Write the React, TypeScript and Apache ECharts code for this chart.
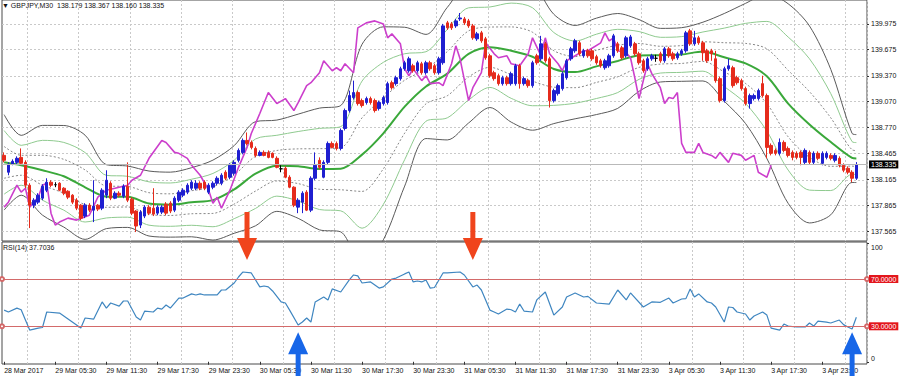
import React, { useEffect, useRef } from 'react';
import * as echarts from 'echarts';

const tickLabels = ['28 Mar 2017', '29 Mar 05:30', '29 Mar 11:30', '29 Mar 17:30', '29 Mar 23:30', '30 Mar 05:30', '30 Mar 11:30', '30 Mar 17:30', '30 Mar 23:30', '31 Mar 05:30', '31 Mar 11:30', '31 Mar 17:30', '31 Mar 23:30', '3 Apr 05:30', '3 Apr 11:30', '3 Apr 17:30', '3 Apr 23:30'];
const priceTicks = [137.565, 137.865, 138.165, 138.465, 138.77, 139.07, 139.37, 139.675, 139.975];
const rsiTicks = [0, 100];
const rsiLevels = [70, 30];
const rsiLast = 37.7036;
const symbolName = 'GBPJPY,M30';

// [open, close, low, high]
const candles = [
[138.445,138.388,138.364,138.480],[138.249,138.341,138.214,138.364],[138.341,138.376,138.330,138.399],[138.364,138.411,138.341,138.434],[138.422,138.353,138.330,138.526],
[138.364,138.098,138.063,138.388],[138.098,137.866,137.599,138.121],[137.866,137.924,137.831,137.947],[137.901,137.982,137.878,138.005],[137.947,138.086,137.924,138.109],
[138.040,138.133,138.017,138.179],[138.133,138.098,138.075,138.156],[138.104,138.104,138.075,138.133],[138.121,138.040,138.028,138.133],[138.063,138.005,137.982,138.075],
[138.028,137.959,137.936,138.040],[137.982,137.901,137.878,137.994],[137.924,137.831,137.808,137.947],[137.866,137.715,137.692,137.878],[137.739,137.866,137.715,137.889],
[137.866,137.808,137.785,137.889],[137.808,137.854,137.669,138.156],[137.866,137.820,137.797,137.878],[137.831,138.040,137.808,138.063],[137.982,138.156,137.947,138.272],
[138.121,137.947,137.924,138.144],[137.947,138.005,137.936,138.028],[138.005,137.982,137.959,138.028],[137.970,138.086,137.947,138.109],[138.086,137.924,137.901,138.364],
[137.936,137.773,137.750,137.959],[137.797,137.623,137.553,137.808],[137.634,137.785,137.599,137.808],[137.739,137.843,137.715,137.866],[137.843,137.773,137.750,137.866],
[137.831,137.762,137.739,138.063],[137.773,137.843,137.750,137.866],[137.785,137.843,137.762,137.866],[137.878,137.773,137.750,137.901],[137.889,137.797,137.773,137.912],
[137.808,137.947,137.785,137.970],[137.924,138.017,137.901,138.040],[137.982,138.040,137.959,138.063],[138.017,138.098,137.994,138.121],[138.063,138.133,138.040,138.156],
[138.063,138.121,138.040,138.156],[138.121,138.063,138.040,138.144],[138.133,138.063,138.040,138.156],[138.017,138.098,137.994,138.121],[138.075,138.121,138.051,138.144],
[138.121,138.179,138.098,138.202],[138.121,138.214,138.098,138.237],[138.249,138.179,138.156,138.272],[138.191,138.330,138.167,138.353],[138.237,138.364,138.214,138.388],
[138.388,138.503,138.364,138.526],[138.480,138.619,138.457,138.642],[138.619,138.584,138.561,138.712],[138.596,138.538,138.515,138.619],[138.526,138.445,138.422,138.549],
[138.445,138.480,138.434,138.503],[138.480,138.445,138.434,138.503],[138.480,138.422,138.411,138.503],[138.469,138.422,138.411,138.480],[138.411,138.306,138.295,138.434],
[138.289,138.289,138.249,138.330],[138.295,138.191,138.179,138.318],[138.191,138.075,138.063,138.214],[138.075,137.866,137.843,138.086],[137.843,137.924,137.773,137.947],
[137.901,138.005,137.773,138.028],[138.017,137.808,137.797,138.040],[137.808,138.179,137.785,138.202],[138.179,138.330,138.156,138.480],[138.388,138.306,138.283,138.422],
[138.191,138.364,138.179,138.388],[138.364,138.584,138.341,138.607],[138.584,138.538,138.526,138.607],[138.584,138.526,138.503,138.607],[138.526,138.735,138.503,138.758],
[138.758,138.967,138.735,138.990],[138.967,139.141,138.944,139.199],[139.118,139.176,139.094,139.315],[139.176,139.048,139.025,139.199],[139.083,139.025,139.002,139.106],
[139.060,139.106,139.036,139.129],[139.106,139.060,139.036,139.129],[139.083,138.967,138.944,139.106],[138.990,139.060,138.967,139.083],[139.048,139.118,139.025,139.141],
[139.060,139.280,139.036,139.303],[139.291,139.233,139.210,139.315],[139.280,139.349,139.257,139.372],[139.338,139.453,139.315,139.477],[139.453,139.523,139.430,139.546],
[139.430,139.569,139.407,139.593],[139.488,139.430,139.407,139.511],[139.430,139.523,139.407,139.546],[139.511,139.407,139.384,139.534],[139.407,139.523,139.384,139.546],
[139.523,139.453,139.430,139.546],[139.488,139.407,139.384,139.511],[139.407,139.569,139.384,139.593],[139.523,139.952,139.500,139.975],[139.987,139.929,139.905,140.010],
[139.975,139.929,139.905,139.998],[139.952,140.010,139.929,140.033],[140.033,140.044,140.010,140.102],[140.033,139.987,139.963,140.056],[140.010,139.952,139.929,140.033],
[139.952,139.813,139.790,139.975],[139.801,139.859,139.778,139.882],[139.871,139.778,139.755,139.894],[139.801,139.581,139.558,139.824],[139.604,139.372,139.349,139.627],
[139.407,139.338,139.315,139.430],[139.372,139.280,139.257,139.396],[139.280,139.349,139.257,139.372],[139.349,139.280,139.257,139.372],[139.280,139.396,139.257,139.419],
[139.280,139.488,139.257,139.511],[139.488,139.280,139.222,139.511],[139.280,139.338,139.257,139.361],[139.315,139.257,139.233,139.338],[139.257,139.523,139.233,139.546],
[139.604,139.523,139.500,139.627],[139.569,139.743,139.546,139.836],[139.743,139.546,139.523,139.766],[139.569,139.083,139.002,139.593],[139.083,139.199,139.060,139.222],
[139.164,139.257,139.141,139.280],[139.222,139.396,139.199,139.419],[139.349,139.546,139.326,139.569],[139.569,139.685,139.546,139.708],[139.662,139.778,139.639,139.801],
[139.755,139.627,139.604,139.778],[139.604,139.662,139.581,139.685],[139.662,139.604,139.581,139.685],[139.662,139.569,139.546,139.685],[139.593,139.523,139.500,139.616],
[139.546,139.488,139.465,139.569],[139.465,139.546,139.442,139.569],[139.488,139.604,139.465,139.627],[139.604,139.836,139.581,139.859],[139.743,139.662,139.639,139.766],
[139.697,139.581,139.558,139.720],[139.604,139.813,139.581,139.836],[139.720,139.824,139.697,139.847],[139.743,139.627,139.604,139.766],[139.627,139.523,139.500,139.651],
[139.546,139.430,139.407,139.569],[139.453,139.569,139.430,139.593],[139.569,139.604,139.546,139.627],[139.575,139.575,139.534,139.616],[139.627,139.546,139.523,139.651],
[139.546,139.685,139.523,139.708],[139.685,139.604,139.581,139.708],[139.627,139.569,139.546,139.651],[139.581,139.627,139.558,139.651],[139.627,139.662,139.604,139.685],
[139.662,139.871,139.639,139.894],[139.894,139.743,139.720,139.917],[139.743,139.813,139.720,139.894],[139.813,139.755,139.732,139.836],[139.755,139.639,139.546,139.778],
[139.662,139.546,139.523,139.685],[139.662,139.627,139.546,139.685],[139.569,139.315,139.291,139.662],[139.338,139.083,139.060,139.361],[139.083,139.453,139.060,139.477],
[139.453,139.488,139.430,139.569],[139.465,139.257,139.233,139.488],[139.349,139.291,139.268,139.372],[139.315,139.222,139.199,139.338],[139.222,139.048,139.025,139.245],
[139.048,139.141,138.990,139.164],[139.106,139.141,139.083,139.164],[139.106,139.199,139.083,139.222],[139.280,139.141,139.118,139.372],[139.141,138.538,138.411,139.164],
[138.561,138.469,138.445,138.584],[138.503,138.469,138.445,138.526],[138.469,138.596,138.445,138.642],[138.596,138.503,138.480,138.619],[138.526,138.445,138.422,138.549],
[138.480,138.422,138.388,138.503],[138.469,138.422,138.399,138.492],[138.480,138.422,138.330,138.503],[138.364,138.503,138.341,138.526],[138.480,138.364,138.341,138.503],
[138.364,138.469,138.341,138.492],[138.469,138.411,138.388,138.492],[138.353,138.469,138.330,138.492],[138.422,138.469,138.399,138.492],[138.445,138.411,138.388,138.469],
[138.388,138.445,138.364,138.469],[138.411,138.330,138.306,138.434],[138.330,138.272,138.249,138.353],[138.295,138.249,138.225,138.318],[138.249,138.179,138.133,138.272],
[138.179,138.335,138.160,138.367]
];

const bandIdx = [0,4,9,14,19,24,29,34,39,44,49,54,59,64,69,74,79,84,89,94,99,104,109,114,119,124,129,134,139,144,149,154,159,164,169,174,179,184,189,194,199,200];
const bandMid = [138.364,138.330,138.272,138.202,138.074,137.965,137.964,137.885,137.872,137.900,137.925,138.049,138.232,138.325,138.319,138.287,138.290,138.454,138.702,139.012,139.247,139.396,139.626,139.704,139.663,139.593,139.451,139.414,139.481,139.544,139.608,139.611,139.619,139.653,139.586,139.515,139.366,139.048,138.805,138.600,138.415,138.408];
const bandU1 = [138.549,138.446,138.446,138.399,138.276,138.089,138.083,138.011,137.998,138.034,138.080,138.219,138.434,138.502,138.521,138.523,138.535,138.882,139.115,139.320,139.449,139.653,139.894,139.938,139.940,139.878,139.663,139.595,139.668,139.728,139.747,139.715,139.723,139.767,139.756,139.748,139.685,139.435,139.187,138.882,138.510,138.501];
const bandU2 = [138.734,138.562,138.620,138.596,138.478,138.213,138.202,138.137,138.124,138.168,138.235,138.389,138.636,138.679,138.723,138.759,138.780,139.310,139.528,139.628,139.651,139.910,140.162,140.172,140.217,140.163,139.875,139.776,139.855,139.912,139.886,139.819,139.827,139.881,139.926,139.981,140.004,139.822,139.569,139.164,138.605,138.594];
const bandU3 = [138.919,138.678,138.794,138.793,138.680,138.337,138.321,138.263,138.250,138.302,138.390,138.559,138.838,138.856,138.925,138.995,139.025,139.738,139.941,139.936,139.853,140.167,140.430,140.406,140.494,140.448,140.087,139.957,140.042,140.096,140.025,139.923,139.931,139.995,140.096,140.214,140.323,140.209,139.951,139.446,138.700,138.687];
const bandL1 = [138.179,138.214,138.098,138.005,137.872,137.841,137.845,137.759,137.746,137.766,137.770,137.879,138.030,138.148,138.117,138.051,138.045,138.026,138.289,138.704,139.045,139.139,139.358,139.470,139.386,139.308,139.239,139.233,139.294,139.360,139.469,139.507,139.515,139.539,139.416,139.282,139.047,138.661,138.423,138.318,138.320,138.315];
const bandL2 = [137.994,138.098,137.924,137.808,137.670,137.717,137.726,137.633,137.620,137.632,137.615,137.709,137.828,137.971,137.915,137.815,137.800,137.598,137.876,138.396,138.843,138.882,139.090,139.236,139.109,139.023,139.027,139.052,139.107,139.176,139.330,139.403,139.411,139.425,139.246,139.049,138.728,138.274,138.041,138.036,138.225,138.222];
const bandL3 = [137.809,137.982,137.750,137.611,137.468,137.593,137.607,137.507,137.494,137.498,137.460,137.539,137.626,137.794,137.713,137.579,137.555,137.170,137.463,138.088,138.641,138.625,138.822,139.002,138.832,138.738,138.815,138.871,138.920,138.992,139.191,139.299,139.307,139.311,139.076,138.816,138.409,137.887,137.659,137.754,138.130,138.129];

const magenta = [[0,137.843],[1,137.901],[3,138.098],[4,138.017],[5,138.063],[6,137.843],[8,137.959],[9,138.098],[10,138.121],[11,137.773],[12,137.634],[13,137.669],[15,137.715],[17,137.692],[20,137.750],[22,137.959],[24,138.040],[26,138.063],[29,138.098],[30,138.156],[32,138.214],[34,138.411],[37,138.619],[38,138.596],[40,138.480],[41,138.469],[43,138.411],[44,138.330],[46,138.214],[48,138.040],[49,137.889],[50,137.959],[51,137.831],[53,138.040],[55,138.306],[56,138.422],[57,138.538],[58,138.700],[60,138.932],[62,139.176],[64,139.048],[66,139.106],[68,138.967],[69,139.060],[71,139.257],[72,139.291],[74,139.407],[75,139.546],[77,139.430],[78,139.465],[79,139.430],[80,139.511],[82,139.407],[83,139.929],[85,139.987],[87,140.010],[89,139.975],[90,139.813],[91,139.859],[93,139.743],[94,139.453],[95,139.372],[96,139.453],[98,139.315],[99,139.372],[100,139.280],[102,139.291],[103,139.257],[105,139.511],[106,139.720],[107,139.569],[109,139.083],[110,139.233],[112,139.407],[113,139.755],[115,139.627],[116,139.581],[118,139.604],[119,139.511],[121,139.488],[123,139.627],[124,139.813],[126,139.604],[127,139.813],[128,139.627],[130,139.511],[131,139.430],[132,139.546],[134,139.604],[136,139.662],[137,139.662],[140,139.755],[141,139.871],[142,139.778],[143,139.813],[144,139.662],[146,139.639],[147,139.581],[148,139.349],[149,139.106],[150,139.315],[151,139.511],[152,139.396],[153,139.315],[154,139.233],[155,139.048],[156,139.118],[157,139.106],[158,139.176],[159,138.584],[160,138.480],[162,138.480],[163,138.584],[164,138.480],[166,138.445],[167,138.411],[168,138.480],[170,138.364],[171,138.469],[173,138.445],[174,138.388],[176,138.445],[177,138.249],[179,138.191],[180,138.330]];

const rsi = [[0,43.7],[1,42.1],[3,45.4],[4,44.0],[5,35.3],[6,26.8],[8,28.5],[9,29.0],[10,42.1],[13,41.2],[18,28.5],[19,37.0],[21,36.0],[23,50.6],[24,45.4],[25,49.7],[27,47.1],[28,51.4],[29,51.4],[31,37.9],[32,35.3],[33,42.9],[35,42.1],[36,45.4],[37,44.5],[38,48.0],[39,45.4],[41,53.9],[42,53.9],[44,57.4],[45,56.5],[46,57.4],[47,56.5],[50,56.5],[51,60.7],[52,60.7],[54,66.6],[55,71.7],[56,75.9],[58,75.1],[60,63.3],[61,64.1],[62,63.3],[63,59.9],[65,50.6],[66,49.7],[67,43.7],[69,31.1],[70,33.6],[71,37.0],[72,33.6],[73,50.6],[75,54.8],[76,52.3],[77,61.6],[79,59.0],[81,69.2],[82,73.4],[83,72.6],[84,66.6],[86,67.5],[88,62.3],[89,63.3],[91,70.0],[92,70.8],[94,74.3],[95,75.9],[96,67.5],[97,68.3],[98,67.5],[99,69.2],[100,62.3],[101,62.8],[103,75.1],[104,75.1],[107,75.9],[108,73.4],[110,63.3],[111,64.9],[112,60.7],[114,43.7],[115,42.1],[116,40.4],[118,44.6],[119,44.0],[120,42.1],[121,48.8],[122,42.9],[124,42.1],[125,52.3],[127,59.0],[129,39.5],[131,46.3],[132,54.8],[134,58.2],[136,54.8],[137,55.3],[139,49.7],[142,48.8],[144,60.7],[146,52.3],[147,58.2],[150,46.3],[152,50.6],[154,50.3],[156,53.9],[157,49.7],[159,53.1],[160,53.4],[161,61.6],[162,54.8],[163,57.4],[165,50.6],[166,49.7],[167,46.3],[169,33.6],[170,46.3],[171,45.9],[172,42.1],[174,40.4],[175,35.3],[176,38.7],[178,42.1],[179,39.5],[180,28.5],[182,26.8],[183,31.9],[184,30.2],[186,29.4],[188,29.4],[189,32.8],[190,30.2],[191,34.4],[193,33.6],[194,32.8],[196,35.3],[197,31.4],[198,29.4],[199,27.7],[200,rsiLast]];

// arrow annotations: [bar index, RSI value at arrow tip]
const redArrows = [[57, 86], [110, 86]];
const blueArrows = [[69, 25], [199, 25]];

const N_CATS = 203;
const FONT = 'Liberation Sans, Arial, sans-serif';

export default function App() {
  const ref = useRef<HTMLDivElement>(null);
  useEffect(() => {
    const chart = echarts.init(ref.current!, null, { renderer: 'svg' });
    const cats = Array.from({ length: N_CATS }, (_, i) => String(i));
    const last = candles[candles.length - 1];
    const pair = (idx: number[], vals: number[]) => idx.map((x, k) => [x, vals[k]]);
    const gridLine = { color: '#c9c9c9', width: 1, type: [2, 2] as any };
    const vSplit = (i: number) => i % 12 === 6;
    const band = (vals: number[], color: string, width: number, type: any, z = 2) => ({
      type: 'line', xAxisIndex: 0, yAxisIndex: 0, data: pair(bandIdx, vals), symbol: 'none', showSymbol: false,
      smooth: 0.3, silent: true, z, lineStyle: { color, width, type },
    });
    const downArrow = 'path://M7.5,0L12.5,0L12.5,26L20,26L10,48L0,26L7.5,26Z';
    const upArrow = 'path://M10,0L20,22L12.5,22L12.5,48L7.5,48L7.5,22L0,22Z';

    const option: any = {
      animation: false,
      backgroundColor: '#ffffff',
      textStyle: { fontFamily: FONT },
      title: [
        { text: '\u25BC ' + symbolName + '  ' + [last[0], last[3], last[2], last[1]].map(v => v.toFixed(3)).join(' '), left: 2, top: 2, padding: 0, textStyle: { fontSize: 7, fontWeight: 'normal', color: '#111', fontFamily: FONT } },
        { text: 'RSI(14) ' + rsiLast.toFixed(4), left: 3, top: 244, padding: 0, textStyle: { fontSize: 7, fontWeight: 'normal', color: '#111', fontFamily: FONT } },
      ],
      grid: [
        { left: 2, top: -1, width: 865, height: 242, show: true, borderColor: '#4a4a4a', borderWidth: 1 },
        { left: 2, top: 242, width: 865, height: 122, show: true, borderColor: '#4a4a4a', borderWidth: 1 },
      ],
      xAxis: [
        { type: 'category', gridIndex: 0, data: cats, boundaryGap: true, axisLine: { show: false }, axisTick: { show: false }, axisLabel: { show: false }, splitLine: { show: true, interval: vSplit, lineStyle: gridLine } },
        {
          type: 'category', gridIndex: 1, data: cats, boundaryGap: true, axisLine: { show: false },
          axisTick: { show: true, interval: 11, alignWithLabel: true, length: 3, lineStyle: { color: '#333' } },
          axisLabel: { interval: 11, formatter: (_v: string, idx: number) => (idx % 12 === 0 ? tickLabels[idx / 12] ?? '' : ''), align: 'left', fontSize: 7, color: '#111', margin: 3, fontFamily: FONT },
          splitLine: { show: true, interval: vSplit, lineStyle: gridLine },
        },
      ],
      yAxis: [
        {
          type: 'value', gridIndex: 0, position: 'right', min: 137.449, max: 140.2531,
          axisLine: { show: false }, splitLine: { show: false },
          axisTick: { show: true, length: 2, customValues: priceTicks, lineStyle: { color: '#333' } },
          axisLabel: { customValues: priceTicks, formatter: (v: number) => v.toFixed(3), fontSize: 7, color: '#111', margin: 4, fontFamily: FONT },
        },
        {
          type: 'value', gridIndex: 1, position: 'right', min: -1.88, max: 101.29,
          axisLine: { show: false }, splitLine: { show: false },
          axisTick: { show: true, length: 2, customValues: rsiTicks, lineStyle: { color: '#333' } },
          axisLabel: {
            customValues: rsiTicks, margin: 4, fontSize: 7, color: '#111', fontFamily: FONT,
            formatter: (v: number) => (v >= 100 ? '{t|' + v + '}' : '{b|' + v + '}'),
            rich: { t: { padding: [7, 0, 0, 0], fontSize: 7, color: '#111' }, b: { padding: [0, 0, 7, 0], fontSize: 7, color: '#111' } },
          },
        },
      ],
      series: [
        {
          type: 'line', xAxisIndex: 0, yAxisIndex: 0, data: [], z: 1, silent: true,
          markLine: { silent: true, z: 1, symbol: ['none', 'none'], label: { show: false }, lineStyle: gridLine, data: priceTicks.map(v => ({ yAxis: v })) },
        },
        band(bandU3, '#5a5a5a', 1, 'solid'),
        band(bandL3, '#5a5a5a', 1, 'solid'),
        band(bandU2, '#8fca8f', 1, 'solid'),
        band(bandL2, '#8fca8f', 1, 'solid'),
        band(bandU1, '#6a6a6a', 0.8, [2, 2]),
        band(bandL1, '#6a6a6a', 0.8, [2, 2]),
        band(bandMid, '#3aa83a', 2, 'solid'),
        {
          type: 'line', xAxisIndex: 0, yAxisIndex: 0, data: magenta, symbol: 'none', showSymbol: false, silent: true, z: 3,
          lineStyle: { color: '#cc3fcc', width: 1.6 },
        },
        {
          type: 'candlestick', xAxisIndex: 0, yAxisIndex: 0, data: candles, barWidth: 3, z: 4, silent: true,
          itemStyle: { color: '#1f1fd0', color0: '#e52b1c', borderColor: '#1f1fd0', borderColor0: '#e52b1c', borderColorDoji: '#000000', borderWidth: 1 },
          markLine: {
            silent: true, symbol: ['none', 'none'],
            data: [{
              yAxis: last[1],
              lineStyle: { color: '#b9b9b9', width: 1, type: 'solid' },
              label: { show: true, position: 'end', formatter: last[1].toFixed(3), backgroundColor: '#000', color: '#fff', fontSize: 7, padding: [1, 2, 0, 2], distance: 2, fontFamily: FONT },
            }],
          },
        },
        {
          type: 'line', xAxisIndex: 1, yAxisIndex: 1, data: rsi, symbol: 'none', showSymbol: false, silent: true, z: 3,
          lineStyle: { color: '#3f86c0', width: 1.2 },
          markLine: {
            silent: true, symbol: ['emptyCircle', 'emptyCircle'], symbolSize: 4,
            lineStyle: { color: '#d36a6a', width: 1, type: 'solid' },
            label: { show: true, position: 'end', backgroundColor: '#e3161c', color: '#fff', fontSize: 7, padding: [1, 2, 0, 2], distance: 2, fontFamily: FONT },
            data: rsiLevels.map(v => ({ yAxis: v, label: { formatter: v.toFixed(4) } })),
          },
          markPoint: {
            silent: true, z: 10, label: { show: false },
            data: [
              ...redArrows.map(([i, v]) => ({ coord: [i, v], symbol: downArrow, symbolSize: [20, 48], symbolOffset: [0, -24], symbolKeepAspect: false, itemStyle: { color: '#f0441c' } })),
              ...blueArrows.map(([i, v]) => ({ coord: [i, v], symbol: upArrow, symbolSize: [20, 48], symbolOffset: [0, 24], symbolKeepAspect: false, itemStyle: { color: '#1766e8' } })),
            ],
          },
        },
      ],
    };
    chart.setOption(option);
    return () => chart.dispose();
  }, []);
  return <div ref={ref} style={{ position: 'fixed', left: 0, top: 0, width: 900, height: 376, background: '#fff' }} />;
}
